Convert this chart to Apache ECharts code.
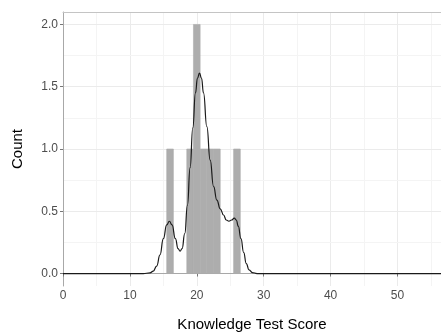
<!DOCTYPE html>
<html style="height: 100%">
<head>
    <meta charset="utf-8">
</head>
<body style="height: 100%; margin: 0">
    <div id="container" style="width: 441px; height: 336px"></div>
    <script src="https://cdn.jsdelivr.net/npm/echarts@6/dist/echarts.min.js"></script>
    <script type="text/javascript">
        // histogram bins: [start, end, count]
        var binStart = [15.5, 18.5, 19.5, 20.5, 21.5, 22.5, 25.5];
        var binEnd = [16.5, 19.5, 20.5, 21.5, 22.5, 23.5, 26.5];
        var binCount = [1, 1, 2, 1, 1, 1, 1];

        // density curve (scaled to counts)
        var curveX = [0, 12, 13, 13.5, 14, 14.5, 15, 15.5, 15.9, 16.3, 16.8, 17.2, 17.5, 17.8, 18.2, 18.6,
            19, 19.4, 19.8, 20.1, 20.4, 20.7, 21, 21.5, 22, 22.5, 23, 23.5, 24, 24.4, 24.8, 25.2, 25.6,
            25.9, 26.2, 26.6, 27, 27.4, 27.8, 28.3, 29, 56.5];
        var curveY = [0, 0, 0.005, 0.02, 0.06, 0.15, 0.28, 0.39, 0.42, 0.39, 0.28, 0.2, 0.18, 0.2, 0.32, 0.55,
            0.85, 1.17, 1.45, 1.57, 1.61, 1.57, 1.45, 1.18, 0.91, 0.7, 0.59, 0.52, 0.47, 0.43, 0.42, 0.43, 0.445,
            0.43, 0.38, 0.28, 0.17, 0.08, 0.03, 0.008, 0, 0];

        var xTicks = [0, 10, 20, 30, 40, 50];
        var yTicks = [0, 0.5, 1, 1.5, 2];
        var yGrid = [0, 0.25, 0.5, 0.75, 1, 1.25, 1.5, 1.75, 2];

        var dom = document.getElementById("container");
        var myChart = echarts.init(dom);

        var bins = binStart.map(function (s, i) {
            return [s, binEnd[i], binCount[i]];
        });
        var curve = curveX.map(function (x, i) {
            return [x, curveY[i]];
        });

        var font = 'Liberation Sans';
        var option = {
            animation: false,
            grid: {
                left: 63,
                right: 0,
                top: 12,
                bottom: 50,
                outerBoundsMode: 'none'
            },
            xAxis: [{
                type: 'value',
                min: 0,
                max: 56.5,
                interval: 10,
                name: 'Knowledge Test Score',
                nameLocation: 'middle',
                nameGap: 31,
                nameTextStyle: { color: '#000', fontSize: 15, fontFamily: font },
                axisLine: { show: true, lineStyle: { color: '#a8a8a8', width: 1 } },
                axisTick: { show: true, length: 3, lineStyle: { color: '#777' } },
                axisLabel: {
                    color: '#4d4d4d', fontSize: 12, fontFamily: font, margin: 4,
                    showMaxLabel: false,
                    formatter: function (v) { return xTicks.indexOf(v) >= 0 ? v : ''; }
                },
                splitLine: { show: true, lineStyle: { color: '#ebebeb' } },
                minorTick: { show: false, splitNumber: 2 },
                minorSplitLine: { show: true, lineStyle: { color: '#f4f4f4' } }
            }, {
                type: 'value',
                position: 'top',
                min: 0,
                max: 56.5,
                axisLine: { show: true, lineStyle: { color: '#c4c4c4', width: 1 } },
                axisTick: { show: false },
                axisLabel: { show: false },
                splitLine: { show: false }
            }],
            yAxis: {
                type: 'value',
                min: -0.1,
                max: 2.1,
                name: 'Count',
                nameLocation: 'middle',
                nameGap: 38,
                nameTextStyle: { color: '#000', fontSize: 15, fontFamily: font },
                axisLine: { show: true, lineStyle: { color: '#a8a8a8', width: 1 } },
                axisTick: { show: true, length: 3, lineStyle: { color: '#777' },
                    customValues: yTicks },
                axisLabel: {
                    color: '#4d4d4d', fontSize: 12, fontFamily: font, margin: 5,
                    customValues: yTicks,
                    formatter: function (v) { return v.toFixed(1); }
                },
                splitLine: { show: false }
            },
            series: [{
                // horizontal grid lines, major and minor
                type: 'line',
                data: [],
                z: 0,
                markLine: {
                    silent: true,
                    z: 0,
                    symbol: 'none',
                    label: { show: false },
                    data: yGrid.map(function (v) {
                        return {
                            yAxis: v,
                            lineStyle: { color: yTicks.indexOf(v) >= 0 ? '#ebebeb' : '#f4f4f4', type: 'solid', width: 1 }
                        };
                    })
                }
            }, {
                type: 'custom',
                data: bins,
                renderItem: function (params, api) {
                    var p0 = api.coord([api.value(0), 0]);
                    var p1 = api.coord([api.value(1), api.value(2)]);
                    return {
                        type: 'rect',
                        shape: { x: p0[0], y: p1[1], width: p1[0] - p0[0], height: p0[1] - p1[1] },
                        style: { fill: '#adadad', stroke: '#adadad', lineWidth: 0.6 }
                    };
                },
                z: 3
            }, {
                type: 'line',
                data: curve,
                smooth: 0.5,
                smoothMonotone: 'x',
                showSymbol: false,
                lineStyle: { color: '#1a1a1a', width: 1.2 },
                z: 4
            }]
        };

        myChart.setOption(option);
    </script>
</body>
</html>
